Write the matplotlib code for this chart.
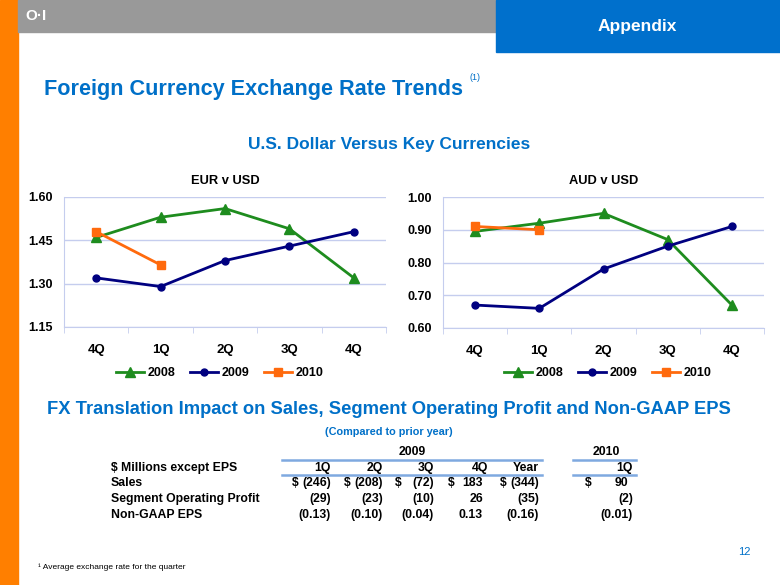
import matplotlib
matplotlib.use("Agg")
import matplotlib.pyplot as plt
from matplotlib.lines import Line2D
from matplotlib.patches import Rectangle

plt.rcParams['font.family'] = ['Liberation Sans', 'DejaVu Sans']

W, H = 780, 585

# --- data ---
quarters = ['4Q', '1Q', '2Q', '3Q', '4Q']
years = ['2008', '2009', '2010']
eur_2008 = [1.46, 1.53, 1.56, 1.49, 1.32]
eur_2009 = [1.32, 1.29, 1.38, 1.43, 1.48]
eur_2010 = [1.48, 1.365]
aud_2008 = [0.895, 0.92, 0.95, 0.87, 0.67]
aud_2009 = [0.67, 0.66, 0.78, 0.85, 0.91]
aud_2010 = [0.91, 0.90]
eur_ticks = [1.15, 1.30, 1.45, 1.60]
aud_ticks = [0.60, 0.70, 0.80, 0.90, 1.00]

tbl_cols_2009 = ['1Q', '2Q', '3Q', '4Q', 'Year']
tbl_cols_2010 = ['1Q']
row_labels = ['Sales', 'Segment Operating Profit', 'Non-GAAP EPS']
sales = [-246, -208, -72, 183, -344, 90]
seg_op = [-29, -23, -10, 26, -35, -2]
eps = [-0.13, -0.10, -0.04, 0.13, -0.16, -0.01]

BLUE = '#0070C8'
GREEN = '#1E8C1E'
NAVY = '#000080'
ORANGE = '#FF6A0D'
GRID = '#C5CDEE'


def fx(x):
    return x / W


def fy(y):
    return 1 - y / H


def ax_rect(x0, y0, x1, y1):
    return [fx(x0), fy(y1), fx(x1) - fx(x0), fy(y0) - fy(y1)]


fig = plt.figure(figsize=(7.8, 5.85), dpi=100)

# header bars
fig.patches.append(Rectangle((0, 0), fx(18), 1, transform=fig.transFigure, color='#FF7F00', zorder=0))
fig.patches.append(Rectangle((fx(18), fy(32)), fx(496) - fx(18), 1 - fy(32), transform=fig.transFigure,
                             color='#999999', zorder=0))
fig.patches.append(Rectangle((fx(496), fy(52)), 1 - fx(496), 1 - fy(52), transform=fig.transFigure,
                             color='#0070CC', zorder=0))
fig.text(fx(36), fy(16), 'O·I', color='white', fontsize=11, fontweight='bold', ha='center', va='center')
fig.text(fx(637), fy(26), 'Appendix', color='white', fontsize=12.5, fontweight='bold', ha='center', va='center')

fig.text(fx(44), fy(89), 'Foreign Currency Exchange Rate Trends', color=BLUE, fontsize=15.6,
         fontweight='bold', ha='left', va='center')
fig.text(fx(469), fy(78), '(1)', color=BLUE, fontsize=6.5, ha='left', va='center')
fig.text(fx(389), fy(144), 'U.S. Dollar Versus Key Currencies', color=BLUE, fontsize=12.5,
         fontweight='bold', ha='center', va='center')


def draw_chart(rect, title, s08, s09, s10, ticks, fmt, leg_x):
    ax = fig.add_axes(rect)
    x = range(len(quarters))
    ax.plot(x, s08, color=GREEN, lw=2, marker='^', ms=7, zorder=3)
    ax.plot(x, s09, color=NAVY, lw=2, marker='o', ms=5, zorder=3)
    ax.plot(range(len(s10)), s10, color=ORANGE, lw=2, marker='s', ms=6, zorder=4)
    ax.set_xlim(-0.5, len(quarters) - 0.5)
    ax.set_ylim(ticks[0], ticks[-1])
    ax.set_yticks(ticks)
    ax.set_yticklabels([fmt.format(t) for t in ticks], fontsize=9, fontweight='bold')
    ax.set_xticks(list(x))
    ax.set_xticklabels(quarters, fontsize=9.5, fontweight='bold')
    ax.set_xticks([i - 0.5 for i in range(len(quarters) + 1)], minor=True)
    ax.tick_params(axis='x', which='major', length=0, pad=12)
    ax.tick_params(axis='x', which='minor', length=4, color=GRID, direction='out')
    ax.tick_params(axis='y', length=0, pad=8)
    ax.grid(axis='y', color=GRID, lw=1)
    ax.set_axisbelow(True)
    for s in ['top', 'right']:
        ax.spines[s].set_visible(False)
    for s in ['left', 'bottom']:
        ax.spines[s].set_color(GRID)
    ax.set_title(title, fontsize=9.3, fontweight='bold', pad=9)
    handles = [Line2D([], [], color=GREEN, lw=2, marker='^', ms=7),
               Line2D([], [], color=NAVY, lw=2, marker='o', ms=5),
               Line2D([], [], color=ORANGE, lw=2, marker='s', ms=6)]
    fig.legend(handles, years, loc='center', bbox_to_anchor=(fx(leg_x), fy(373)), ncol=3,
               frameon=False, prop={'size': 9, 'weight': 'bold'}, handlelength=2.2,
               columnspacing=1.2, handletextpad=0.3)


draw_chart(ax_rect(64, 197, 386, 327), 'EUR v USD', eur_2008, eur_2009, eur_2010, eur_ticks, '{:.2f}', 220)
draw_chart(ax_rect(443, 197, 764, 328), 'AUD v USD', aud_2008, aud_2009, aud_2010, aud_ticks, '{:.2f}', 608)

# --- table ---
fig.text(fx(389), fy(410), 'FX Translation Impact on Sales, Segment Operating Profit and Non-GAAP EPS',
         color=BLUE, fontsize=13.2, fontweight='bold', ha='center', va='center')
fig.text(fx(389), fy(432), '(Compared to prior year)', color=BLUE, fontsize=7.8, fontweight='bold',
         ha='center', va='center')

TF = dict(fontsize=8.8, fontweight='bold', va='center')
LINE = '#7FA9E0'
fig.text(fx(412), fy(452), '2009', ha='center', **TF)
fig.text(fx(606), fy(452), '2010', ha='center', **TF)
for yy in (460, 475):
    fig.add_artist(Line2D([fx(282), fx(542)], [fy(yy), fy(yy)], color=LINE, lw=1.8))
    fig.add_artist(Line2D([fx(573), fx(636)], [fy(yy), fy(yy)], color=LINE, lw=1.8))

col_right = [331, 383, 434, 488, 539, 633]
dollar_x = [292, 344, 395, 448, 500, 585]
fig.text(fx(111), fy(468), '$ Millions except EPS', ha='left', **TF)
for lab, xr in zip(tbl_cols_2009 + tbl_cols_2010, col_right):
    fig.text(fx(xr), fy(468), lab, ha='right', **TF)

rows_y = [483, 499, 515]
for lab, yy in zip(row_labels, rows_y):
    fig.text(fx(111), fy(yy), lab, ha='left', **TF)


def fmt_val(v, dec):
    s = f'{abs(v):.{dec}f}'
    return f'({s})' if v < 0 else s


for vals, yy, dec, dollar in [(sales, rows_y[0], 0, True), (seg_op, rows_y[1], 0, False),
                              (eps, rows_y[2], 2, False)]:
    for v, xr, xd in zip(vals, col_right, dollar_x):
        off = 0 if v < 0 else 5
        fig.text(fx(xr - off), fy(yy), fmt_val(v, dec), ha='right', **TF)
        if dollar:
            fig.text(fx(xd), fy(yy), '$', ha='left', **TF)

fig.text(fx(38), fy(567), '¹ Average exchange rate for the quarter', fontsize=6, ha='left', va='center')
fig.text(fx(744), fy(552), '12', color=BLUE, fontsize=8, ha='center', va='center')

fig.savefig('out.png', dpi=100)
